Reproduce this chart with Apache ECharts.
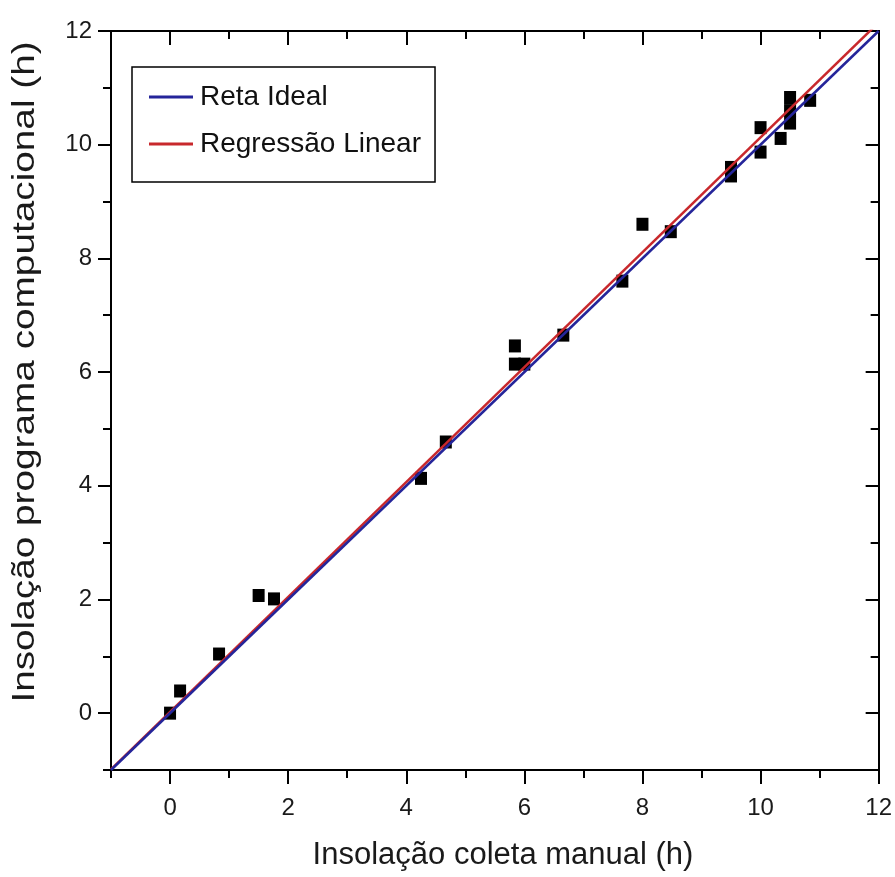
<!DOCTYPE html>
<html lang="pt">
<head>
<meta charset="UTF-8">
<title>Insolação</title>
<script src="https://cdn.jsdelivr.net/npm/echarts@6/dist/echarts.min.js"></script>
<style>
  html, body { margin: 0; padding: 0; background: #fff; }
  #main { width: 895px; height: 877px; }
</style>
</head>
<body>
<div id="main"></div>
<script>
// valores
var manualX   = [0, 0.17, 0.83, 1.5, 1.76, 4.25, 4.67, 5.84, 5.84, 6.0, 6.66, 7.66, 8.0, 8.48, 9.5, 9.5, 10.0, 10.0, 10.34, 10.5, 10.5, 10.5, 10.84];
var computedY = [0, 0.39, 1.04, 2.07, 2.01, 4.13, 4.77, 6.46, 6.14, 6.14, 6.65, 7.6, 8.6, 8.47, 9.6, 9.45, 10.3, 9.87, 10.11, 10.83, 10.6, 10.38, 10.78];
var idealLine = [[-1, -1], [12, 12]];
var regLine   = [[-1, -0.99], [12, 12.15]];
var majorTicks = [0, 2, 4, 6, 8, 10, 12];
var minorTicks = [-1, 1, 3, 5, 7, 9, 11];

var font = "'Liberation Sans', Arial, sans-serif";
var chart = echarts.init(document.getElementById('main'));

var points = manualX.map(function (x, i) { return [x, computedY[i]]; });

// eixo com ticks personalizados (principal ou secundário)
function axis(pos, ticks, len, inside, labels) {
  return {
    type: 'value', position: pos, min: -1, max: 12,
    axisLine: { show: true, onZero: false, lineStyle: { color: '#000', width: 2 } },
    axisTick: { show: true, inside: inside, length: len, customValues: ticks, lineStyle: { color: '#000', width: 2 } },
    axisLabel: labels ? { show: true, customValues: ticks, fontSize: 24, color: '#1a1a1a', fontFamily: font,
                          margin: pos === 'bottom' ? 26 : 19 } : { show: false },
    splitLine: { show: false }
  };
}

chart.setOption({
  backgroundColor: '#fff',
  animation: false,
  grid: { left: 111, right: 15, top: 31, bottom: 107 },
  xAxis: [
    axis('bottom', majorTicks, 14, false, true),
    axis('bottom', minorTicks, 8, false, false),
    axis('top', majorTicks, 14, true, false),
    axis('top', minorTicks, 8, true, false)
  ],
  yAxis: [
    axis('left', majorTicks, 13, false, true),
    axis('left', minorTicks, 8, false, false),
    axis('right', majorTicks, 13, true, false),
    axis('right', minorTicks, 8, true, false)
  ],
  legend: {
    left: 132, top: 67, orient: 'vertical',
    data: [{ name: 'Reta Ideal', icon: 'rect' }, { name: 'Regressão Linear', icon: 'rect' }],
    itemWidth: 44, itemHeight: 3, itemGap: 19,
    padding: [16, 14, 24, 17],
    borderColor: '#000', borderWidth: 1.5, borderRadius: 0,
    backgroundColor: '#fff',
    textStyle: { fontSize: 28, color: '#111', fontFamily: font, padding: [0, 0, 0, 2] }
  },
  graphic: [
    {
      type: 'text', x: 503, y: 855,
      style: { text: 'Insolação coleta manual (h)', font: '31px ' + font, fill: '#1a1a1a', align: 'center', verticalAlign: 'middle' }
    },
    {
      type: 'text', x: 25, y: 372, rotation: Math.PI / 2, scaleX: 1.25,
      style: { text: 'Insolação programa computacional (h)', font: '31px ' + font, fill: '#1a1a1a', align: 'center', verticalAlign: 'middle' }
    }
  ],
  series: [
    {
      name: 'Pontos', type: 'scatter', data: points,
      symbol: 'rect', symbolSize: [12, 13],
      itemStyle: { color: '#000', opacity: 1 }, z: 2
    },
    {
      name: 'Regressão Linear', type: 'line', data: regLine,
      showSymbol: false, symbol: 'none', clip: true,
      lineStyle: { color: '#c8282c', width: 2.5 }, itemStyle: { color: '#c8282c' }, z: 3
    },
    {
      name: 'Reta Ideal', type: 'line', data: idealLine,
      showSymbol: false, symbol: 'none', clip: true,
      lineStyle: { color: '#25259a', width: 2.5 }, itemStyle: { color: '#25259a' }, z: 4
    }
  ]
});
</script>
</body>
</html>
